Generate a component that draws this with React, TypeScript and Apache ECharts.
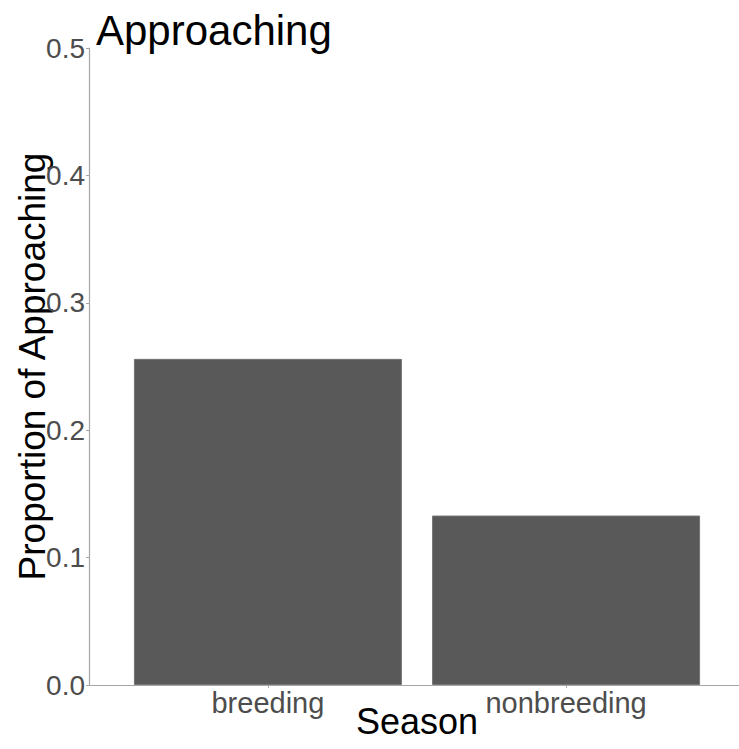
import React, { useEffect, useRef } from "react";
import * as echarts from "echarts";

const seasons = ["breeding", "nonbreeding"];
const proportions = [0.256, 0.133];
const yTicks = [0, 0.1, 0.2, 0.3, 0.4, 0.5];

export default function App() {
  const ref = useRef<HTMLDivElement>(null);
  useEffect(() => {
    if (!ref.current) return;
    const chart = echarts.init(ref.current, null, { renderer: "svg" });
    const positions = seasons.map((_, i) => i + 1);
    chart.setOption({
      animation: false,
      backgroundColor: "#ffffff",
      title: {
        text: "Approaching",
        left: 91,
        top: 4,
        textStyle: {
          fontFamily: "Liberation Sans, Arial, sans-serif",
          fontSize: 42,
          fontWeight: "normal",
          color: "#000000",
        },
      },
      grid: {
        left: 89,
        top: 48,
        width: 656,
        height: 637,
        containLabel: false,
        outerBoundsMode: "none",
      },
      xAxis: {
        type: "value",
        min: 0.4,
        max: 2.6,
        name: "Season",
        nameLocation: "middle",
        nameGap: 18,
        nameMoveOverlap: false,
        nameTextStyle: {
          fontFamily: "Liberation Sans, Arial, sans-serif",
          fontSize: 36,
          color: "#000000",
          verticalAlign: "top",
        },
        axisLine: { show: true, lineStyle: { color: "#a6a6a6", width: 1.2 } },
        axisTick: {
          show: true,
          length: 3,
          customValues: positions,
          lineStyle: { color: "#a6a6a6" },
        },
        axisLabel: {
          customValues: positions,
          margin: 3,
          fontFamily: "Liberation Sans, Arial, sans-serif",
          fontSize: 29,
          color: "#4d4d4d",
          formatter: (v: number) => seasons[Math.round(v) - 1] ?? "",
        },
        splitLine: { show: false },
      },
      yAxis: {
        type: "value",
        min: 0,
        max: 0.5,
        interval: 0.1,
        name: "Proportion of Approaching",
        nameLocation: "middle",
        nameGap: 38,
        nameMoveOverlap: false,
        nameTextStyle: {
          fontFamily: "Liberation Sans, Arial, sans-serif",
          fontSize: 37,
          color: "#000000",
        },
        axisLine: { show: true, lineStyle: { color: "#a6a6a6", width: 1.2 } },
        axisTick: { show: true, length: 3, lineStyle: { color: "#a6a6a6" } },
        axisLabel: {
          margin: 4,
          fontFamily: "Liberation Sans, Arial, sans-serif",
          fontSize: 28,
          color: "#4d4d4d",
          formatter: (v: number) =>
            yTicks.some((t) => Math.abs(t - v) < 1e-9) ? v.toFixed(1) : "",
        },
        splitLine: { show: false },
      },
      series: [
        {
          type: "bar",
          data: positions.map((p, i) => [p, proportions[i]]),
          barWidth: 268,
          itemStyle: {
            color: "#595959",
            borderColor: "#747474",
            borderWidth: 1,
          },
        },
      ],
    });
    return () => chart.dispose();
  }, []);
  return (
    <div
      ref={ref}
      style={{ position: "absolute", left: 0, top: 0, width: 739, height: 749 }}
    />
  );
}
